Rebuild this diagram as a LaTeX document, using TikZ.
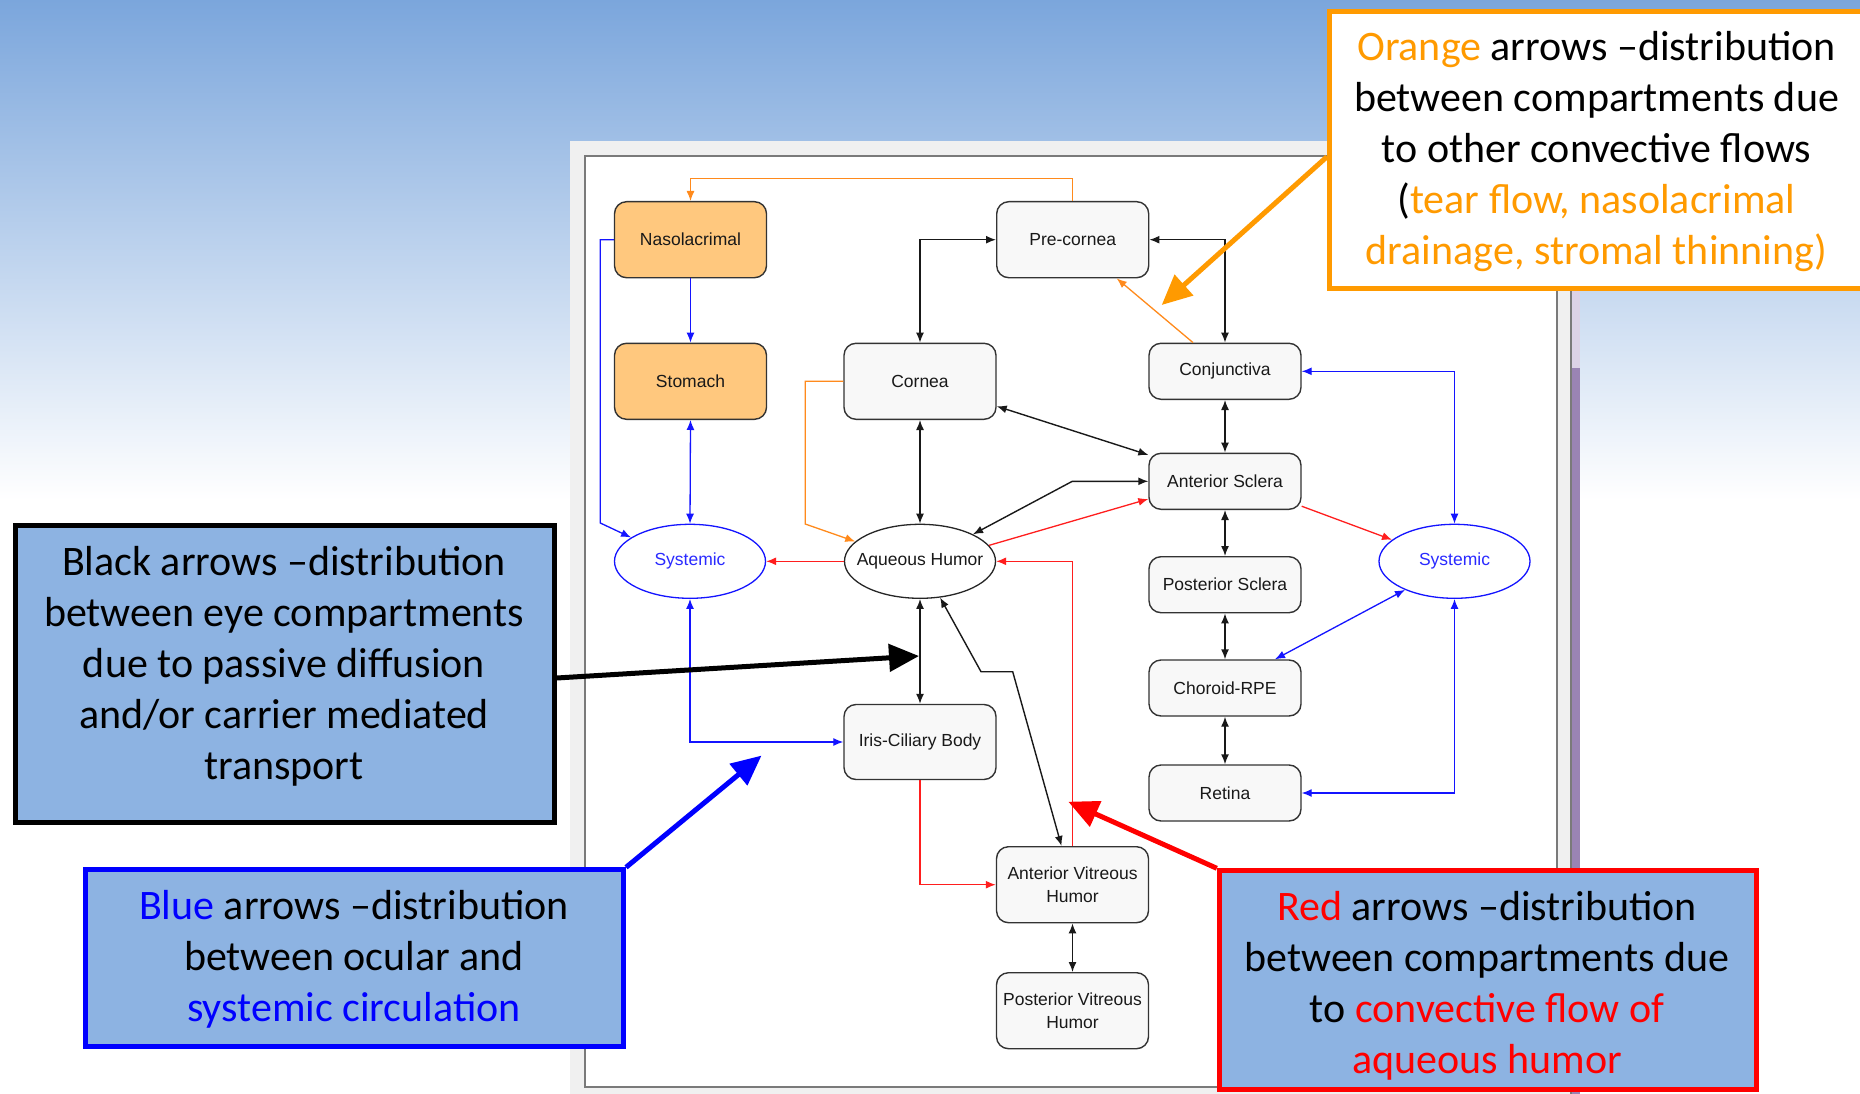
\documentclass[tikz,border=0pt]{standalone}
\usepackage{fontspec}
\setmainfont{Carlito}
\newfontfamily\boxfont{Liberation Sans}
\usetikzlibrary{arrows.meta,shapes.geometric,calc}
\definecolor{bgtop}{HTML}{7BA6DC}
\definecolor{calloutfill}{HTML}{8DB3E2}
\definecolor{txtorange}{HTML}{FF9A00}
\definecolor{txtblue}{HTML}{0000FF}
\definecolor{txtred}{HTML}{FF0000}
\definecolor{lnorange}{HTML}{FF8A1C}
\definecolor{lnblue}{HTML}{1414FF}
\definecolor{lnred}{HTML}{FF1E1E}
\definecolor{sysblue}{HTML}{2A2AFF}
\definecolor{nodefill}{HTML}{F8F8F8}
\definecolor{orangefill}{HTML}{FFC87E}
\definecolor{framegray}{HTML}{F0F0F0}
\definecolor{bordergray}{HTML}{7A7A7A}
\definecolor{lavender}{HTML}{DCD2E6}
\definecolor{scrollpurple}{HTML}{9A84B4}

\begin{document}
\begin{tikzpicture}[x=1pt,y=-1pt,
  >={Latex[length=10pt,width=8pt]},
  comp/.style={draw=black!80, line width=1.4pt, rounded corners=12pt, fill=nodefill,
    minimum width=152pt, inner sep=0pt, text=black!90, align=center,
    font=\boxfont\fontsize{17.5}{23}\selectfont},
  tallbox/.style={comp, minimum height=76pt},
  shortbox/.style={comp, minimum height=56pt},
  feedbox/.style={tallbox, fill=orangefill},
  pool/.style={ellipse, draw=black!85, line width=1.3pt, fill=white, inner sep=0pt,
    inner xsep=-14pt, minimum width=151pt, minimum height=74pt, text=black!90,
    font=\boxfont\fontsize{17.5}{23}\selectfont},
  syspool/.style={pool, draw=lnblue, text=sysblue},
  blk/.style={draw=black!90, line width=1.4pt},
  blu/.style={draw=lnblue, line width=1.3pt},
  rd/.style={draw=lnred, line width=1.3pt},
  org/.style={draw=lnorange, line width=1.3pt},
  callout/.style={draw, line width=5pt, fill=calloutfill, inner sep=0pt},
  callouttext/.style={align=center, font=\fontsize{42}{51}\selectfont, text=black},
  pointer/.style={line width=5pt, -{Triangle[length=30pt,width=27pt]}}
]
\useasboundingbox (0,0) rectangle (1860,1094);

% slide background
\shade[top color=bgtop, bottom color=white] (0,0) rectangle (1860,500);
\fill[white] (0,499) rectangle (1860,1094);

% application window
\fill[framegray] (570,141) rectangle (1580,1094);
\fill[white] (585,156) rectangle (1557,1087);
\draw[bordergray, line width=2pt] (585,156) rectangle (1557,1087);
\draw[bordergray, line width=1.5pt] (1571,141) -- (1571,1094);
\fill[lavender] (1572,141) rectangle (1580,368);
\fill[scrollpurple] (1572,368) rectangle (1580,1094);

% compartments
\node[feedbox]  (naso)    at (690.5,239.7) {Nasolacrimal};
\node[feedbox]  (stomach) at (690.5,381.3) {Stomach};
\node[tallbox]  (pre)     at (1072.7,239.7) {Pre-cornea};
\node[tallbox]  (cornea)  at (920,381.3) {Cornea};
\node[shortbox] (conj)    at (1225,371.3) {Conjunctiva};
\node[shortbox] (asc)     at (1225,481.3) {Anterior Sclera};
\node[shortbox] (psc)     at (1225,584.7) {Posterior Sclera};
\node[shortbox] (chor)    at (1225,688) {Choroid-RPE};
\node[shortbox] (ret)     at (1225,793) {Retina};
\node[syspool]  (sysL)    at (690,561.3) {Systemic};
\node[pool]     (aq)      at (920,561.3) {Aqueous Humor};
\node[syspool]  (sysR)    at (1454.5,561.3) {Systemic};
\node[tallbox, minimum height=75pt] (iris) at (920,742) {Iris-Ciliary Body};
\node[tallbox]  (avh)     at (1072.5,884.7) {Anterior Vitreous\\Humor};
\node[tallbox]  (pvh)     at (1072.5,1010.7) {Posterior Vitreous\\Humor};

% bend points
\coordinate (vitbendA) at (1012.7,671.7);
\coordinate (vitbendB) at (981,671.7);
\coordinate (nasobend) at (600.3,523);
\coordinate (cornbend) at (805.2,524);

% passive diffusion / carrier transport
\draw[blk,<->] (cornea.north) |- (pre.west);
\draw[blk,<->] (pre.east) -| (conj.north);
\draw[blk,<->] (cornea.south) -- (aq.north);
\draw[blk,<->] (aq.south) -- (iris.north);
\draw[blk,<->] (cornea.-18) -- (asc.161);
\draw[blk,<->] (asc.west) -- ++(-76,0) -- (aq.27);
\draw[blk,<->] (conj.south) -- (asc.north);
\draw[blk,<->] (asc.south) -- (psc.north);
\draw[blk,<->] (psc.south) -- (chor.north);
\draw[blk,<->] (chor.south) -- (ret.north);
\draw[blk,<->] (avh.south) -- (pvh.north);
\draw[blk,<->] ([xshift=-11pt]avh.north) -- (vitbendA) -- (vitbendB) -- (aq.-61);

% aqueous humor convection
\draw[rd,->] (aq.13) -- (asc.193);
\draw[rd,->] (avh.north) |- (aq.east);
\draw[rd,->] (aq.west) -- (sysL.east);
\draw[rd,->] (iris.south) |- (avh.west);
\draw[rd,->] (asc.-18) -- (sysR.161);

% ocular / systemic exchange
\draw[blu,->] (naso.south) -- (stomach.north);
\draw[blu,<->] (stomach.south) -- (sysL.north);
\draw[blu,->] (naso.west) -| (nasobend) -- (sysL.158);
\draw[blu,<->] (sysL.south) |- (iris.west);
\draw[blu,<->] (conj.east) -| (sysR.north);
\draw[blu,<->] (sysR.-150) -- ([xshift=50pt]chor.north);
\draw[blu,<->] (sysR.south) |- (ret.east);

% other convective flows
\draw[org,->] (pre.north) -- ++(0,-22.5) -| (naso.north);
\draw[org,->] ([xshift=-32pt]conj.north) -- ([xshift=44pt]pre.south);
\draw[org,->] (cornea.west) -| (cornbend) -- (aq.163);

% legend boxes
\node[callout, draw=black, minimum width=539pt, minimum height=297pt] (blackbox) at (284.7,674) {};
\node[callout, draw=txtblue, minimum width=538.5pt, minimum height=177pt] (bluebox) at (354.3,958.3) {};
\node[callout, draw=txtred, minimum width=537.2pt, minimum height=218.4pt] (redbox) at (1487.9,980) {};
\node[callout, draw=txtorange, fill=white, minimum width=540.5pt, minimum height=276.3pt] (orangebox) at (1599.75,150) {};

\node[callouttext] (blacktext) at (284,666.2)
  {Black arrows –distribution\\between eye compartments\\due to passive diffusion\\and/or carrier mediated\\transport};
\node[callouttext] (bluetext) at (354,959.4)
  {\textcolor{txtblue}{Blue} arrows –distribution\\between ocular and\\\textcolor{txtblue}{systemic circulation}};
\node[callouttext] (redtext) at (1487,985.5)
  {\textcolor{txtred}{Red} arrows –distribution\\between compartments due\\to \textcolor{txtred}{convective flow of}\\\textcolor{txtred}{aqueous humor}};
\node[callouttext] (orangetext) at (1596.5,151.5)
  {\textcolor{txtorange}{Orange} arrows –distribution\\between compartments due\\to other convective flows\\(\textcolor{txtorange}{tear flow, nasolacrimal}\\\textcolor{txtorange}{drainage, stromal thinning)}};

% pointers
\coordinate (blacktip) at (919,656);
\coordinate (bluetip) at (761.5,755.6);
\coordinate (redtip) at (1068.3,801.7);
\coordinate (orangetip) at (1161.7,305);
\draw[pointer, black] ([yshift=-4pt]blackbox.east) -- (blacktip);
\draw[pointer, txtblue] (bluebox.north east) -- (bluetip);
\draw[pointer, txtred] (redbox.north west) -- (redtip);
\draw[pointer, txtorange] ([yshift=-6.7pt]orangebox.west) -- (orangetip);
\end{tikzpicture}
\end{document}
